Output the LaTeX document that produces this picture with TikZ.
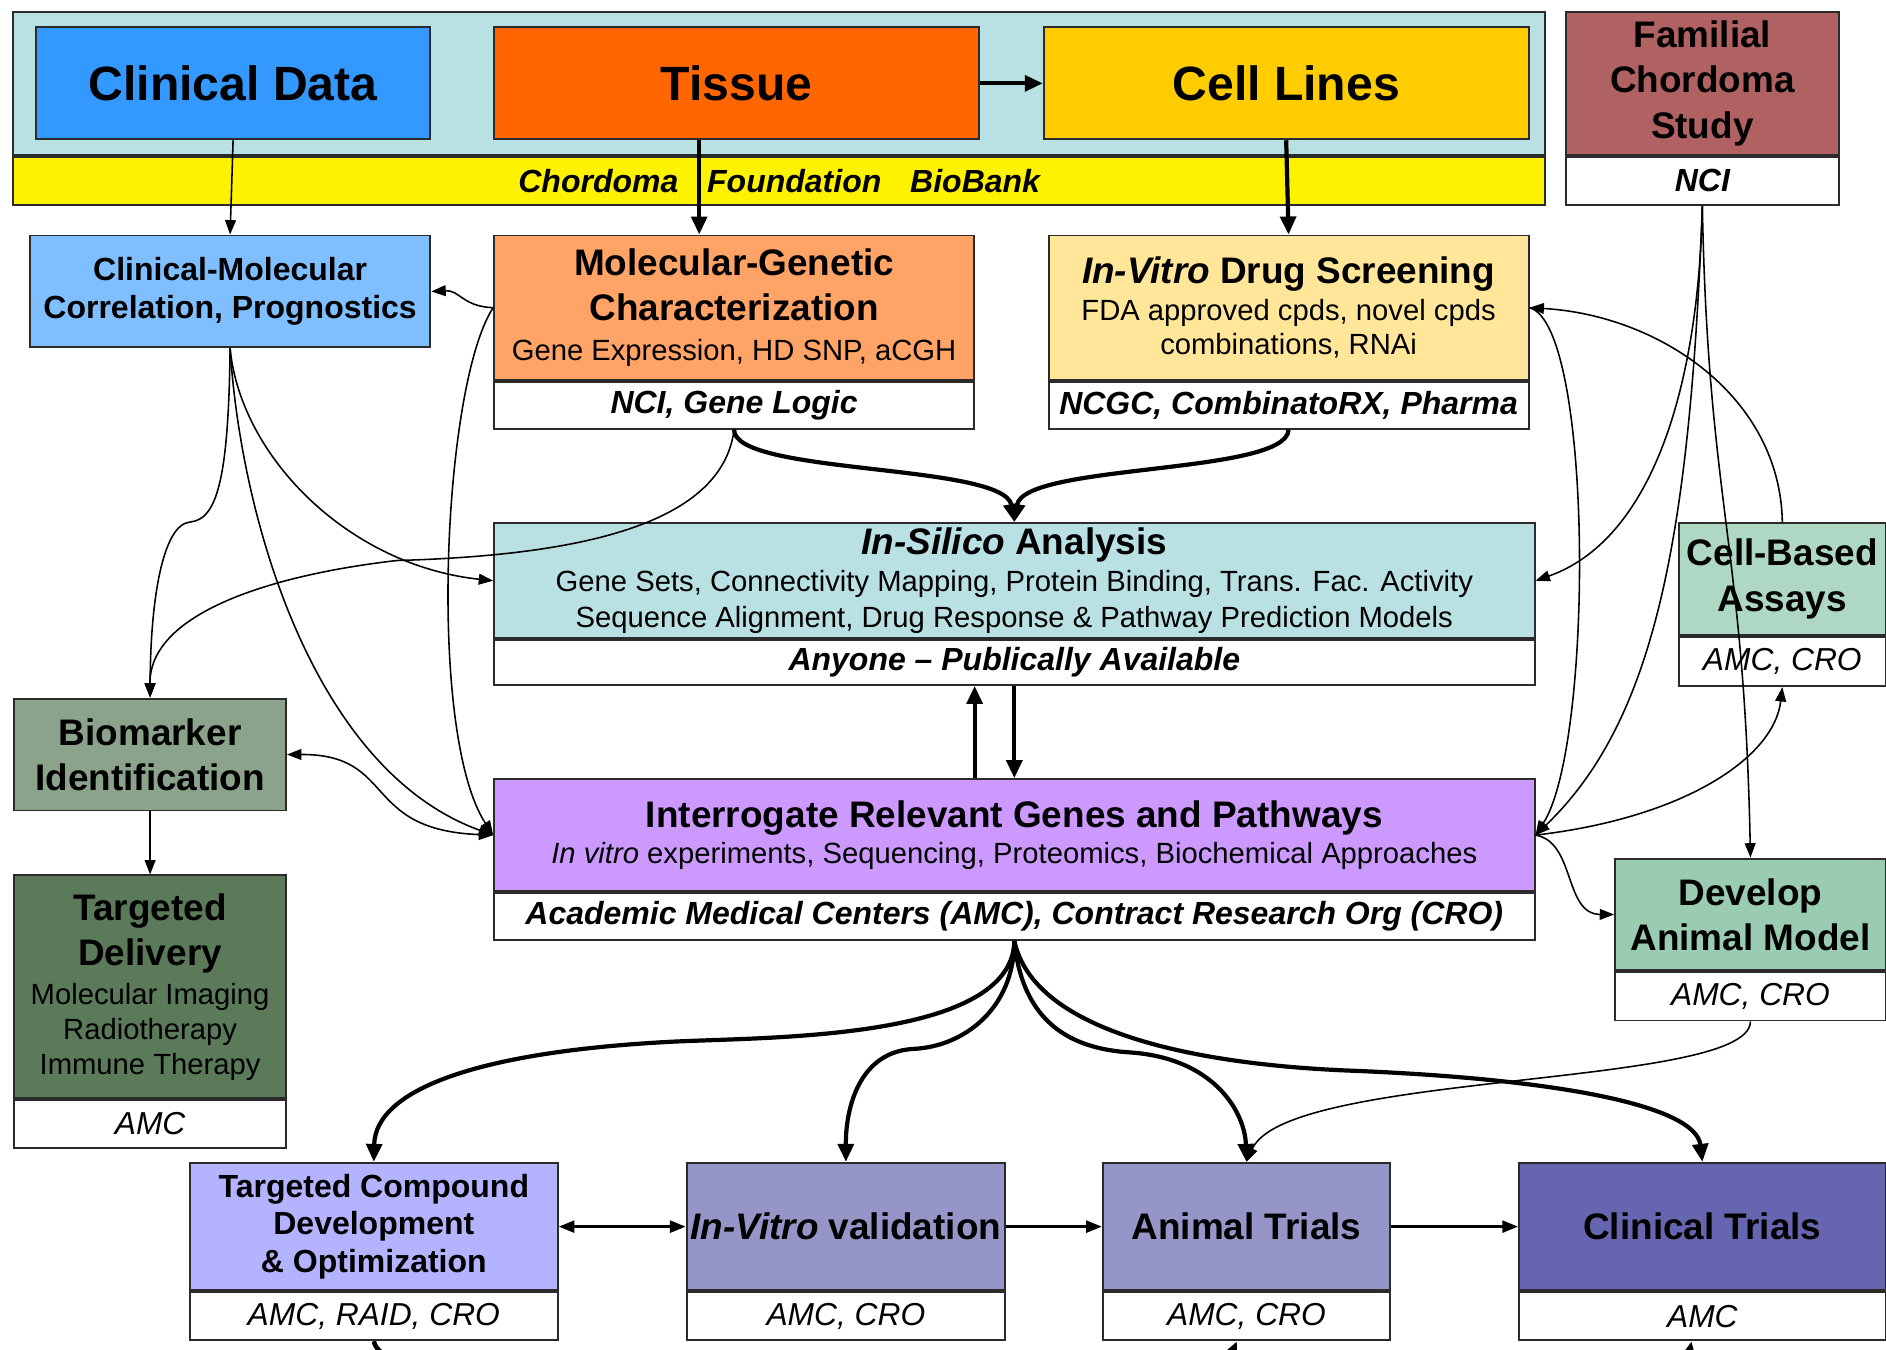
\documentclass[tikz,border=0pt]{standalone}
\usepackage{fontspec}
\setmainfont{Liberation Sans}
\usepackage{tikz}
\usetikzlibrary{arrows.meta,positioning,calc}
\usepackage{xcolor}
\definecolor{boxline}{HTML}{2B2B2B}
\definecolor{bankcyan}{HTML}{B9E0E3}
\definecolor{clinblue}{HTML}{3399FF}
\definecolor{tissueorange}{HTML}{FF6600}
\definecolor{cellgold}{HTML}{FFCC00}
\definecolor{familred}{HTML}{B06262}
\definecolor{corrblue}{HTML}{80BFFF}
\definecolor{molorange}{HTML}{FFA366}
\definecolor{drugyellow}{HTML}{FFE699}
\definecolor{assaygreen}{HTML}{AED8C4}
\definecolor{markergreen}{HTML}{8AA38A}
\definecolor{deliverygreen}{HTML}{5A7A5A}
\definecolor{genepurple}{HTML}{CC99FF}
\definecolor{modelgreen}{HTML}{99CCB0}
\definecolor{compoundblue}{HTML}{B3B3FF}
\definecolor{trialblue}{HTML}{9595C8}
\definecolor{clinicalblue}{HTML}{6666B0}
\newcommand{\fBig}{\fontsize{40}{46}\selectfont\bfseries}
\newcommand{\fTitle}{\fontsize{30.7}{37.5}\selectfont\bfseries}
\newcommand{\fMid}{\fontsize{26.6}{31.5}\selectfont\bfseries}
\newcommand{\fSub}{\fontsize{24.3}{29.5}\selectfont\mdseries\upshape}
\newcommand{\fOrg}{\fontsize{26.6}{31}\selectfont\bfseries\itshape}
\newcommand{\fAmc}{\fontsize{26.4}{31}\selectfont\mdseries\itshape}
\tikzset{
  panel/.style={draw=boxline, line width=1.6pt, anchor=north west, align=center, inner sep=2pt},
  orgbox/.style={draw=boxline, line width=1.6pt, fill=white, align=center, inner sep=2pt, font=\fOrg},
  amcbox/.style={orgbox, font=\fAmc},
  lightarrow/.style={-{Triangle[length=12pt,width=9pt]}, line width=1.3pt},
  lightboth/.style={{Triangle[length=12pt,width=9pt]}-{Triangle[length=12pt,width=9pt]}, line width=1.3pt},
  rowarrow/.style={-{Triangle[length=13pt,width=10pt]}, line width=2pt},
  rowboth/.style={{Triangle[length=13pt,width=10pt]}-{Triangle[length=13pt,width=10pt]}, line width=2pt},
  heavyarrow/.style={-{Triangle[length=15pt,width=13pt]}, line width=3.5pt}
}
\begin{document}
\begin{tikzpicture}[x=1pt, y=-1pt]
  \useasboundingbox (0,0) rectangle (1568,1122);
  \node[panel, fill=bankcyan, minimum width=1274pt, minimum height=119pt] (biobank) at (10,9) {};
  \node[panel, fill=yellow, minimum width=1274pt, minimum height=40pt, font=\fOrg, below=0pt of biobank] (bankband) {Chordoma\hspace{16.6pt} Foundation\hspace{16.6pt} BioBank};
  \node[panel, fill=clinblue, minimum width=328pt, minimum height=93pt, font=\fBig] (clindata) at (29,22) {Clinical Data};
  \node[panel, fill=tissueorange, minimum width=403pt, minimum height=93pt, font=\fBig] (tissue) at (410,22) {Tissue};
  \node[panel, fill=cellgold, minimum width=403pt, minimum height=93pt, font=\fBig] (celllines) at (867,22) {Cell Lines};
  \node[panel, fill=familred, minimum width=227pt, minimum height=119pt, font=\fTitle] (familial) at (1301,9) {Familial\\Chordoma\\Study};
  \node[orgbox, minimum width=227pt, minimum height=40pt, below=0pt of familial] (familialorg) {NCI};

  \node[panel, fill=corrblue, minimum width=333pt, minimum height=93pt, font=\fMid] (corr) at (24,195) {Clinical-Molecular\\Correlation, Prognostics};
  \node[panel, fill=molorange, minimum width=399pt, minimum height=120pt, font=\fTitle] (molgen) at (410,195) {\fTitle Molecular-Genetic\\\fTitle Characterization\\[-4.5pt]\fSub Gene Expression, HD SNP, aCGH};
  \node[orgbox, minimum width=399pt, minimum height=39pt, below=0pt of molgen] (molgenorg) {NCI, Gene Logic};
  \node[panel, fill=drugyellow, minimum width=399pt, minimum height=120pt, font=\fTitle] (drug) at (871,195) {\fTitle\textit{In-Vitro} Drug Screening\\[-7pt]\fSub FDA approved cpds, novel cpds\\[-8.5pt]\fSub combinations, RNAi};
  \node[orgbox, minimum width=399pt, minimum height=39pt, below=0pt of drug] (drugorg) {NCGC, CombinatoRX, Pharma};

  \node[panel, fill=bankcyan, minimum width=865pt, minimum height=96pt, font=\fTitle] (silico) at (410,434) {\fTitle\textit{In-Silico} Analysis\\[-6.5pt]\fSub Gene Sets, Connectivity Mapping, Protein Binding, Trans. Fac. Activity\\[-7.5pt]\fSub Sequence Alignment, Drug Response \& Pathway Prediction Models};
  \node[orgbox, minimum width=865pt, minimum height=37pt, below=0pt of silico] (silicoorg) {Anyone \textendash{} Publically Available};
  \node[panel, fill=assaygreen, minimum width=172pt, minimum height=93pt, font=\fTitle] (assays) at (1395,434) {Cell-Based\\Assays};
  \node[amcbox, minimum width=172pt, minimum height=41pt, below=0pt of assays] (assaysorg) {AMC, CRO};

  \node[panel, fill=markergreen, minimum width=226pt, minimum height=93pt, font=\fTitle] (marker) at (11,580) {Biomarker\\Identification};
  \node[panel, fill=deliverygreen, minimum width=226pt, minimum height=185pt, font=\fTitle] (delivery) at (11,727) {\fTitle Targeted\\\fTitle Delivery\\[-5pt]\fSub Molecular Imaging\\[-8.5pt]\fSub Radiotherapy\\[-8.5pt]\fSub Immune Therapy};
  \node[amcbox, minimum width=226pt, minimum height=40pt, below=0pt of delivery] (deliveryorg) {AMC};

  \node[panel, fill=genepurple, minimum width=865pt, minimum height=93pt, font=\fTitle] (genes) at (410,647) {\fTitle Interrogate Relevant Genes and Pathways\\[-7pt]\fSub\textit{In vitro} experiments, Sequencing, Proteomics, Biochemical Approaches};
  \node[orgbox, minimum width=865pt, minimum height=39pt, below=0pt of genes] (genesorg) {Academic Medical Centers (AMC), Contract Research Org (CRO)};
  \node[panel, fill=modelgreen, minimum width=225pt, minimum height=93pt, font=\fTitle] (model) at (1342,713) {Develop\\Animal Model};
  \node[amcbox, minimum width=225pt, minimum height=40pt, below=0pt of model] (modelorg) {AMC, CRO};

  \node[panel, fill=compoundblue, minimum width=306pt, minimum height=106pt, font=\fMid] (compound) at (157,966) {Targeted Compound\\Development\\\& Optimization};
  \node[amcbox, minimum width=306pt, minimum height=40pt, below=0pt of compound] (compoundorg) {AMC, RAID, CRO};
  \node[panel, fill=trialblue, minimum width=265pt, minimum height=106pt, font=\fTitle] (validation) at (570,966) {\textit{In-Vitro} validation};
  \node[amcbox, minimum width=265pt, minimum height=40pt, below=0pt of validation] (validationorg) {AMC, CRO};
  \node[panel, fill=trialblue, minimum width=239pt, minimum height=106pt, font=\fTitle] (animal) at (916,966) {Animal Trials};
  \node[amcbox, minimum width=239pt, minimum height=40pt, below=0pt of animal] (animalorg) {AMC, CRO};
  \node[panel, fill=clinicalblue, minimum width=305pt, minimum height=106pt, font=\fTitle] (clinical) at (1262,966) {Clinical Trials};
  \node[amcbox, minimum width=305pt, minimum height=40pt, below=0pt of clinical] (clinicalorg) {AMC};

  \draw[lightarrow] (clindata.south) -- (corr.north);
  \draw[heavyarrow] ([xshift=-31pt]tissue.south) -- ([xshift=-29pt]molgen.north);
  \draw[heavyarrow] (tissue.east) -- (celllines.west);
  \draw[heavyarrow] (celllines.south) -- (drug.north);

  \draw[lightarrow] (molgen.west) .. controls (385,255) and (382,241) .. (corr.east);
  \draw[lightarrow] (molgen.west) .. controls (368,320) and (355,610) .. (genes.west);
  \draw[heavyarrow] (molgenorg.south) .. controls (610,395) and (835,385) .. (silico.north);
  \draw[heavyarrow] (drugorg.south) .. controls (1070,395) and (851,385) .. (silico.north);
  \draw[lightarrow] (molgenorg.south) .. controls (600,440) and (470,462) .. (330,466) .. controls (225,478) and (124,510) .. (marker.north);

  \draw[lightarrow] (corr.south) .. controls (190,400) and (180,432) .. (158,434) .. controls (135,436) and (125,500) .. (marker.north);
  \draw[lightarrow] (corr.south) .. controls (200,380) and (290,470) .. (silico.west);
  \draw[lightarrow] (corr.south) .. controls (200,430) and (260,640) .. (genes.west);
  \draw[lightboth] (marker.east) .. controls (330,627) and (300,690) .. (genes.west);
  \draw[lightarrow] (marker.south) -- (delivery.north);

  \draw[heavyarrow] ([xshift=-33pt]genes.north) -- ([xshift=-33pt]silicoorg.south);
  \draw[heavyarrow] (silicoorg.south) -- (genes.north);

  \draw[lightarrow] (familialorg.south) .. controls (1412,330) and (1370,450) .. (silico.east);
  \draw[lightarrow] (familialorg.south) .. controls (1405,450) and (1375,600) .. (genes.east);
  \draw[lightarrow] (familialorg.south) .. controls (1420,420) and (1450,450) .. (model.north);
  \draw[lightarrow] (assays.north) .. controls (1480,330) and (1380,262) .. (drug.east);
  \draw[lightarrow] (drug.east) .. controls (1325,270) and (1325,620) .. (genes.east);
  \draw[lightarrow] (genes.east) .. controls (1400,680) and (1475,630) .. (assaysorg.south);
  \draw[lightarrow] (genes.east) .. controls (1310,700) and (1300,760) .. (model.west);
  \draw[lightarrow] (modelorg.south) .. controls (1455,905) and (1070,890) .. (animal.north);

  \draw[heavyarrow] (genesorg.south) .. controls (842,865) and (640,862) .. (560,866) .. controls (400,874) and (312,905) .. (compound.north);
  \draw[heavyarrow] (genesorg.south) .. controls (843,840) and (800,870) .. (760,872) .. controls (715,874) and (703,920) .. (validation.north);
  \draw[heavyarrow] (genesorg.south) .. controls (850,850) and (890,872) .. (940,875) .. controls (1010,880) and (1035,925) .. (animal.north);
  \draw[heavyarrow] (genesorg.south) .. controls (860,860) and (1000,885) .. (1120,890) .. controls (1300,897) and (1410,920) .. (clinical.north);

  \draw[rowboth] (compound.east) -- (validation.west);
  \draw[rowarrow] (validation.east) -- (animal.west);
  \draw[rowarrow] (animal.east) -- (clinical.west);
  \draw[heavyarrow] (compoundorg.south) .. controls (320,1180) and (1000,1180) .. ([xshift=-8pt]animalorg.south);
  \draw[heavyarrow] (compoundorg.south) .. controls (330,1200) and (1390,1200) .. ([xshift=-9pt]clinicalorg.south);
\end{tikzpicture}
\end{document}
